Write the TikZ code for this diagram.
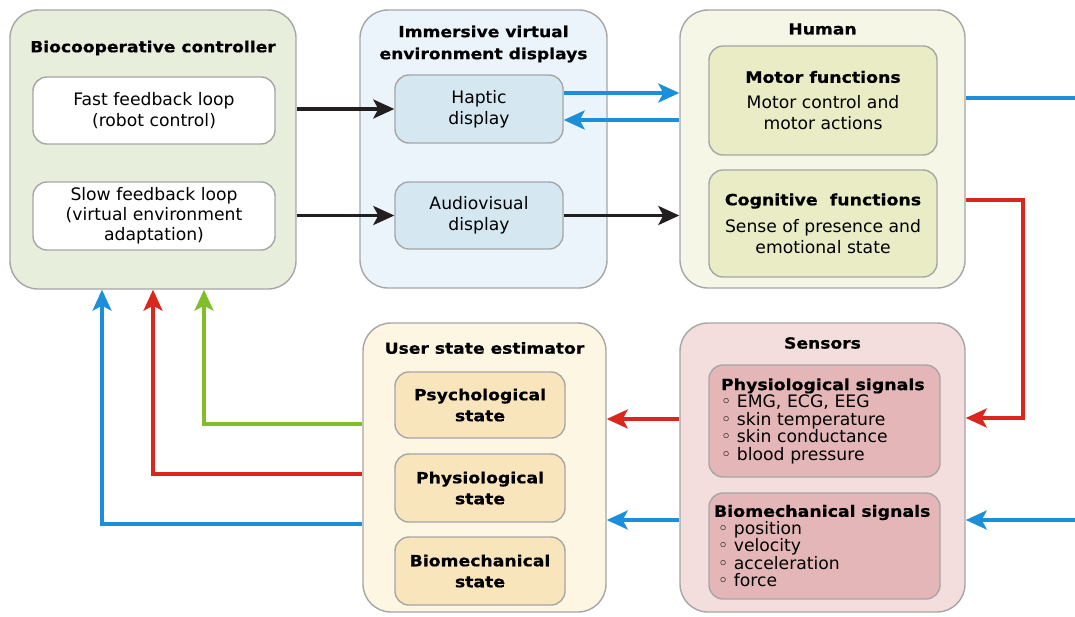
\documentclass[tikz,border=0pt]{standalone}
\usepackage{fontspec}
\setmainfont{DejaVu Sans}
\newfontfamily\hdfont[FakeStretch=1.12, BoldFeatures={FakeBold=0.6}]{DejaVu Sans}
\usetikzlibrary{arrows.meta}

% text styles
\newcommand\txtreg{\fontsize{17.2}{21}\selectfont}
\newcommand\txtlist{\fontsize{17.2}{17.5}\selectfont}
\newcommand\txttitle{\hdfont\bfseries\fontsize{15.3}{22}\selectfont}
\newcommand\txtsub{\hdfont\bfseries\fontsize{15.5}{19}\selectfont}
\newcommand\txtsig{\hdfont\bfseries\fontsize{15.5}{19}\selectfont}
\newcommand\txtstate{\hdfont\bfseries\fontsize{15.4}{21}\selectfont}

% colours
\definecolor{edgegray}{HTML}{A6A6A6}
\definecolor{ctrlbg}{HTML}{E7EEDB}
\definecolor{ivebg}{HTML}{EBF4FA}
\definecolor{ivein}{HTML}{D5E8F1}
\definecolor{humbg}{HTML}{F6F6E6}
\definecolor{humin}{HTML}{E9ECC4}
\definecolor{usrbg}{HTML}{FDF6E3}
\definecolor{usrin}{HTML}{F8E5BB}
\definecolor{senbg}{HTML}{F3DDDD}
\definecolor{senin}{HTML}{E4B6B7}
\definecolor{ink}{HTML}{231F20}
\definecolor{skyb}{HTML}{1B8FDA}
\definecolor{redc}{HTML}{DA271E}
\definecolor{grn}{HTML}{80BF2A}

\begin{document}
\begin{tikzpicture}[x=1pt,y=-1pt,
  outer/.style={draw=edgegray, line width=1.4pt, rounded corners=28pt, inner sep=0pt},
  inner/.style={draw=edgegray, line width=1.4pt, rounded corners=14pt, inner sep=0pt,
                align=center, font=\txtreg},
  title/.style={font=\txttitle, align=center, inner sep=0pt},
  wire/.style={line width=3.3pt},
  con/.style={wire, -{Stealth[length=21pt,width=19pt,inset=5pt]}}]

\fill[white] (0,0) rectangle (1075,616);
\useasboundingbox (0,0) rectangle (1075,616);

% ---------- Biocooperative controller ----------
\node[outer, fill=ctrlbg, minimum width=286pt, minimum height=279pt] (ctrl) at (153,149.5) {};
\node[title] (ctrlt) at (153,48) {Biocooperative controller};
\node[inner, fill=white, minimum width=242pt, minimum height=67pt] (fast) at (154,110.5)
  {Fast feedback loop\\(robot control)};
\node[inner, fill=white, minimum width=242pt, minimum height=68pt, font=\fontsize{17.2}{20}\selectfont] (slow) at (154,216)
  {Slow feedback loop\\(virtual environment\\adaptation)};

% ---------- Immersive virtual environment displays ----------
\node[outer, fill=ivebg, minimum width=247pt, minimum height=278pt] (ive) at (483.5,149) {};
\node[title] (ivet) at (483.5,44) {Immersive virtual\\environment displays};
\node[inner, fill=ivein, minimum width=168pt, minimum height=68pt] (haptic) at (479,109)
  {Haptic\\display};
\node[inner, fill=ivein, minimum width=168pt, minimum height=67pt] (av) at (479,215.5)
  {Audiovisual\\display};

% ---------- Human ----------
\node[outer, fill=humbg, minimum width=285pt, minimum height=278pt] (human) at (822.5,149) {};
\node[title] (humt) at (822.5,29) {Human};
\node[inner, fill=humin, minimum width=228pt, minimum height=109pt] (motor) at (823,100.5)
  {{\txtsub Motor functions}\\[5pt]Motor control and\\motor actions};
\node[inner, fill=humin, minimum width=228pt, minimum height=107pt] (cog) at (823,223.5)
  {{\txtsub Cognitive\ \ functions}\\[6pt]Sense of presence and\\emotional state};

% ---------- User state estimator ----------
\node[outer, fill=usrbg, minimum width=243pt, minimum height=289pt] (user) at (484.5,467.5) {};
\node[title] (usert) at (484.5,348) {User state estimator};
\node[inner, fill=usrin, minimum width=170pt, minimum height=66pt, font=\txtstate] (psych) at (480,405)
  {Psychological\\state};
\node[inner, fill=usrin, minimum width=170pt, minimum height=68pt, font=\txtstate] (physst) at (480,488)
  {Physiological\\state};
\node[inner, fill=usrin, minimum width=170pt, minimum height=68pt, font=\txtstate] (biost) at (480,571)
  {Biomechanical\\state};

% ---------- Sensors ----------
\node[outer, fill=senbg, minimum width=285pt, minimum height=289pt] (sensors) at (822.5,467.5) {};
\node[title] (sent) at (822.5,343) {Sensors};
\node[inner, fill=senin, minimum width=231pt, minimum height=112pt, text width=207pt,
      align=left, font=\txtlist] (physsig) at (824.5,421)
  {{\txtsig Physiological signals}\\
   ◦ EMG, ECG, EEG\\
   ◦ skin temperature\\
   ◦ skin conductance\\
   ◦ blood pressure};
\node[inner, fill=senin, minimum width=231pt, minimum height=106pt, text width=221pt,
      align=left, font=\txtlist] (biosig) at (824.5,546)
  {{\txtsig Biomechanical signals}\\
   \hspace{4pt}◦ position\\
   \hspace{4pt}◦ velocity\\
   \hspace{4pt}◦ acceleration\\
   \hspace{4pt}◦ force};

% ---------- connectors ----------
% controller to displays
\draw[con, ink] (ctrl.east |- haptic.west) -- (haptic.west);
\draw[con, ink] (ctrl.east |- av.west) -- (av.west);
\draw[con, ink] (av.east) -- (human.west |- av.east);

% haptic loop with the human
\coordinate (hapout) at ([yshift=16pt]haptic.east);
\coordinate (hapin) at ([yshift=-11pt]haptic.east);
\draw[con, skyb] (hapout) -- (human.west |- hapout);
\draw[con, skyb] (human.west |- hapin) -- (hapin);

% motor output leaving to the right, returning to the sensors
\coordinate (outR) at (1075,98);
\draw[wire, skyb] (human.east |- outR) -- (outR);
\coordinate (inR) at (1075,520);
\draw[con, skyb] (inR) -- (sensors.east |- inR);

% cognitive state to physiological sensors
\coordinate (rTop) at (1023,200);
\coordinate (rBot) at (1023,418);
\draw[con, redc] (human.east |- rTop) -- (rTop) -- (rBot) -- (sensors.east |- rBot);

% sensors to the user state estimator
\coordinate (midR) at (640,419);
\coordinate (midB) at (640,520);
\draw[con, redc] (sensors.west |- midR) -- (user.east |- midR);
\draw[con, skyb] (sensors.west |- midB) -- (user.east |- midB);

% estimated states back to the controller
\coordinate (gk) at (204,424);
\coordinate (rk) at (153,474);
\coordinate (bk) at (102,524);
\draw[con, grn] (user.west |- gk) -- (gk) -- (gk |- ctrl.south);
\draw[con, redc] (user.west |- rk) -- (rk) -- (rk |- ctrl.south);
\draw[con, skyb] (user.west |- bk) -- (bk) -- (bk |- ctrl.south);

\end{tikzpicture}
\end{document}
